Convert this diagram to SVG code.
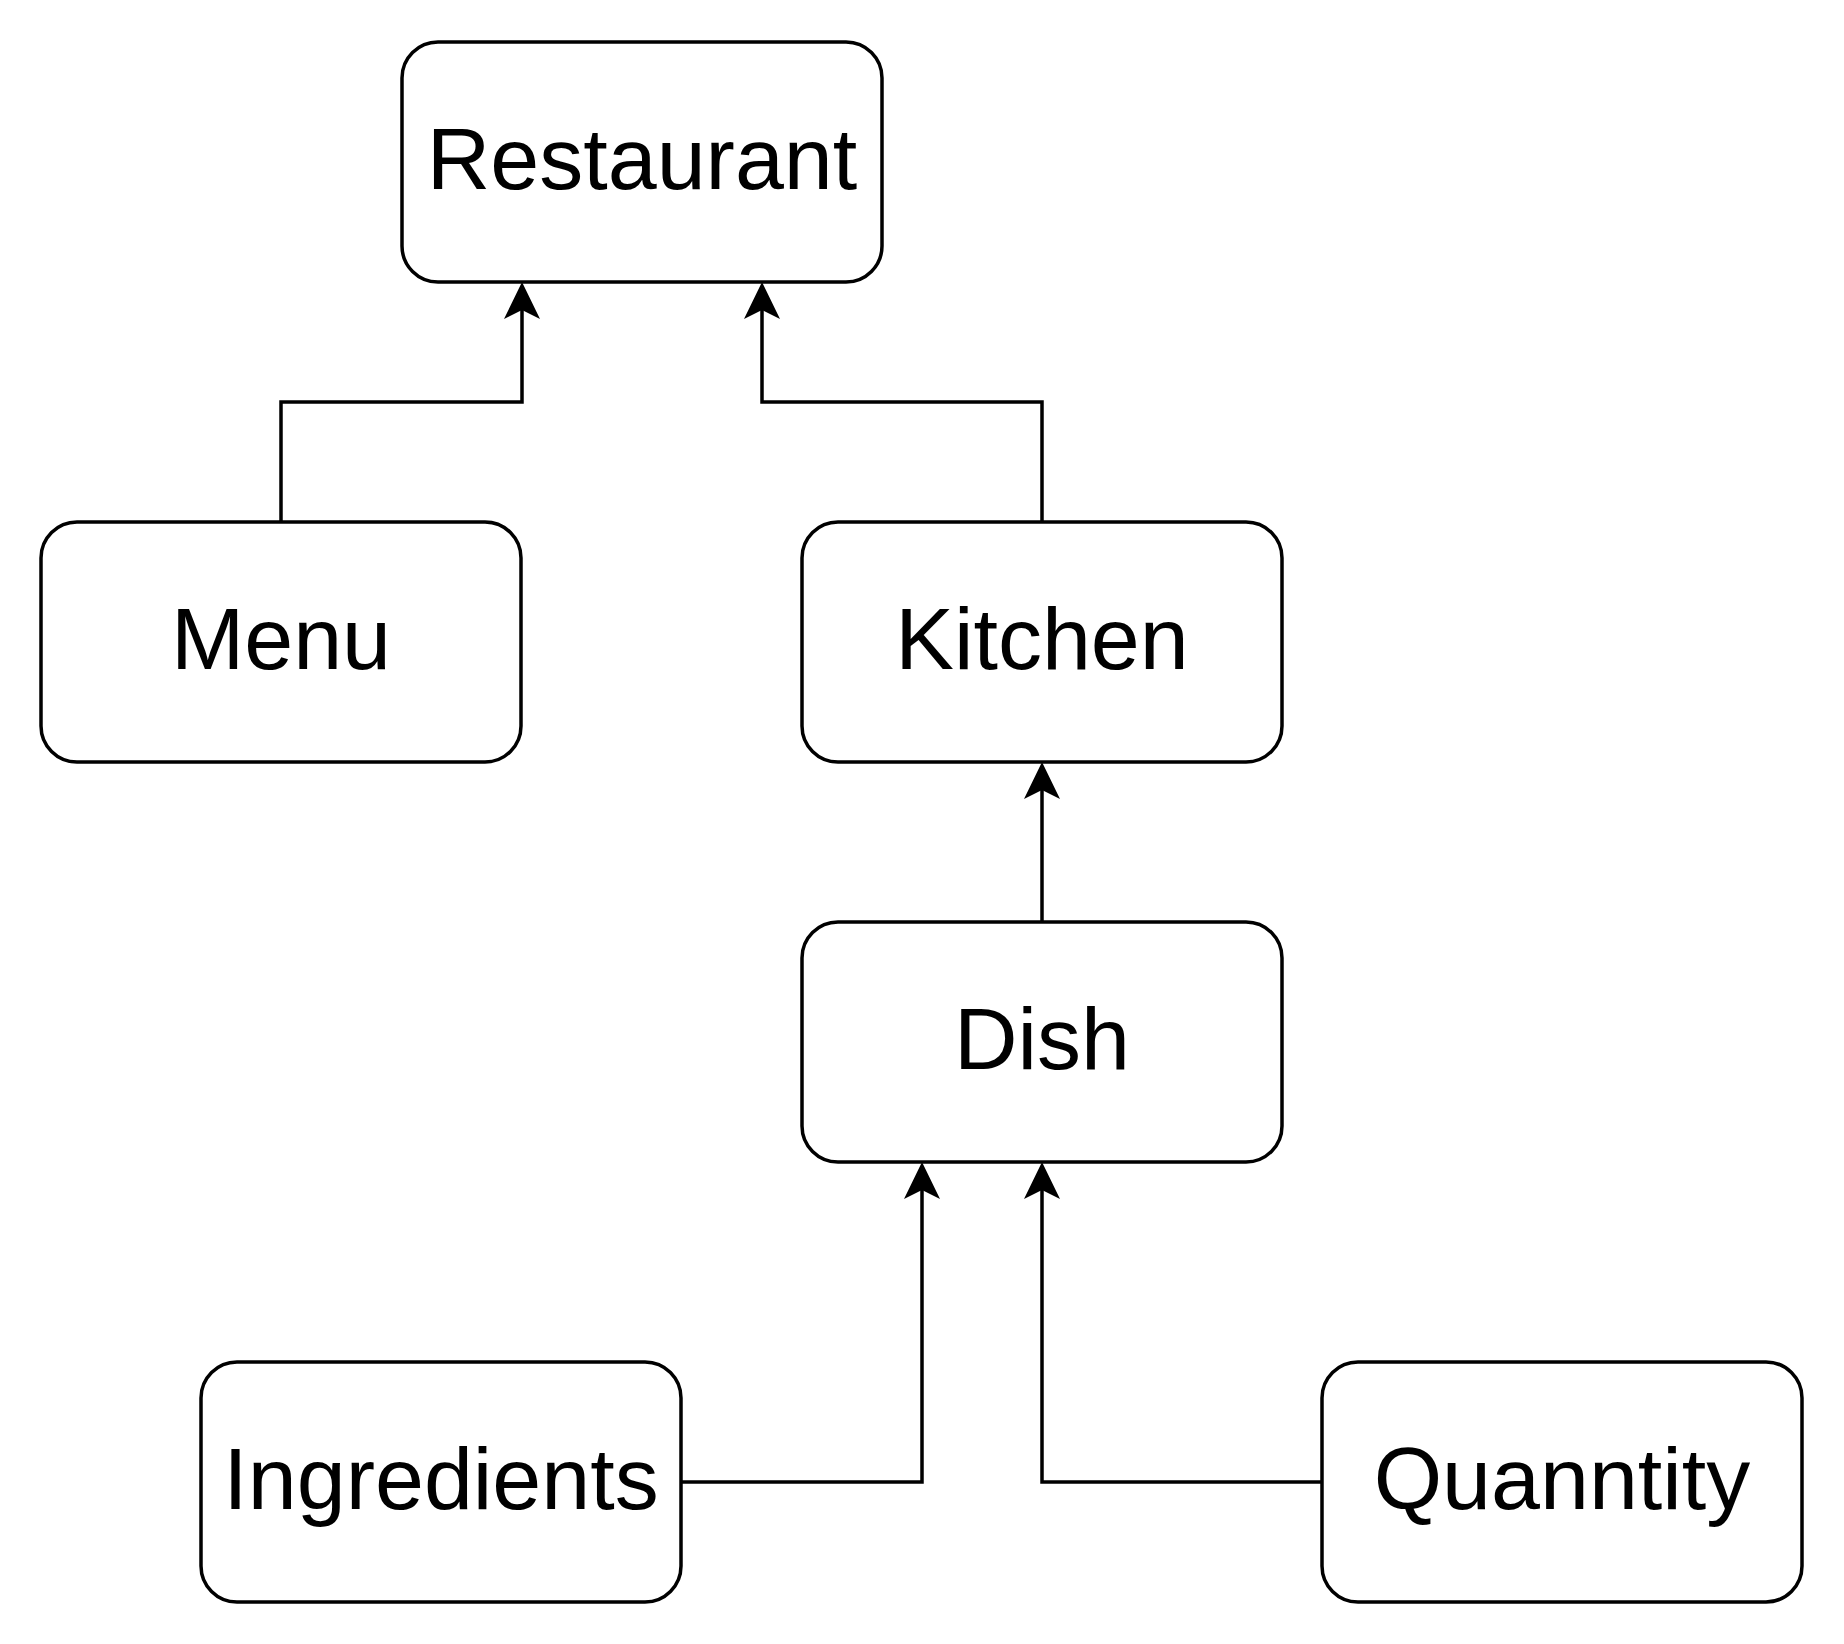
<svg xmlns="http://www.w3.org/2000/svg" width="1844" height="1644" viewBox="0 0 1844 1644">
<style>
.box{fill:#fff;stroke:#000;stroke-width:3.5}
.lbl{font-family:"Liberation Sans",Arial,sans-serif;font-size:88px;fill:#000;text-anchor:middle}
.edge{fill:none;stroke:#000;stroke-width:3.5}
</style>
<defs>
<marker id="arr" viewBox="0 0 37 36" markerWidth="37" markerHeight="36" refX="9" refY="18" orient="auto" markerUnits="userSpaceOnUse">
<path d="M0,0 L37,18 L0,36 L9,18 Z" fill="#000"/>
</marker>
</defs>
<rect width="1844" height="1644" fill="#fff"/>
<g id="connectors">
<path class="edge" d="M281,522 V402 H522 V310" marker-end="url(#arr)"/>
<path class="edge" d="M1042,522 V402 H762 V310" marker-end="url(#arr)"/>
<path class="edge" d="M1042,922 V790" marker-end="url(#arr)"/>
<path class="edge" d="M681,1482 H922 V1190" marker-end="url(#arr)"/>
<path class="edge" d="M1322,1482 H1042 V1190" marker-end="url(#arr)"/>
</g>
<g id="restaurant"><rect class="box" x="402" y="42" width="480" height="240" rx="36"/><text class="lbl" x="642" y="189">Restaurant</text></g>
<g id="menu"><rect class="box" x="41" y="522" width="480" height="240" rx="36"/><text class="lbl" x="281" y="669">Menu</text></g>
<g id="kitchen"><rect class="box" x="802" y="522" width="480" height="240" rx="36"/><text class="lbl" x="1042" y="669">Kitchen</text></g>
<g id="dish"><rect class="box" x="802" y="922" width="480" height="240" rx="36"/><text class="lbl" x="1042" y="1069">Dish</text></g>
<g id="ingredients"><rect class="box" x="201" y="1362" width="480" height="240" rx="36"/><text class="lbl" x="441" y="1509">Ingredients</text></g>
<g id="quanntity"><rect class="box" x="1322" y="1362" width="480" height="240" rx="36"/><text class="lbl" x="1562" y="1509">Quanntity</text></g>
</svg>
